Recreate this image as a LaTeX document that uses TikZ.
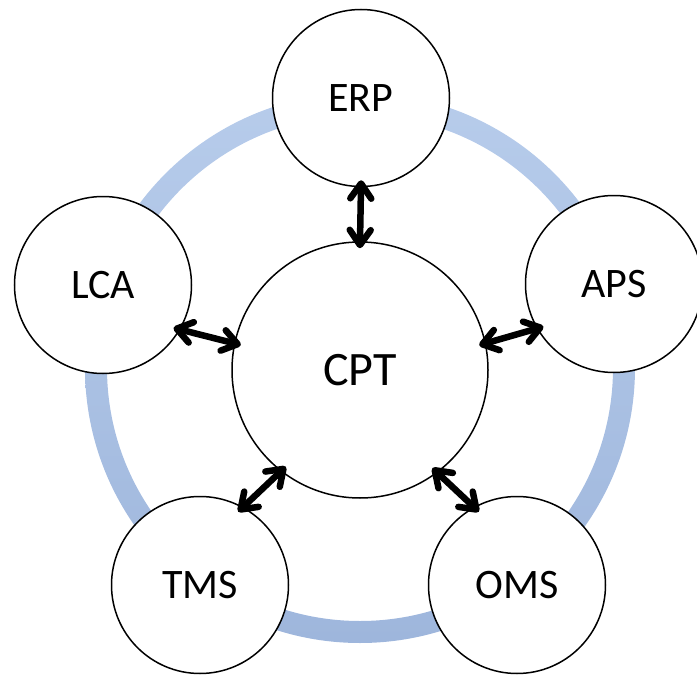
\documentclass[tikz,border=0pt]{standalone}
\usepackage{fontspec}
\setmainfont{Carlito}
\usetikzlibrary{arrows.meta}

\definecolor{ringtop}{RGB}{183,204,235}
\definecolor{ringbot}{RGB}{158,182,220}

\begin{document}
\begin{tikzpicture}[x=1pt,y=-1pt]

    \tikzset{
      unit/.style={
        draw,
        circle,
        line width=1.5pt,
        fill=white,
        inner sep=0pt,
        minimum size=177pt,
        font=\fontsize{42}{50}\selectfont,
      },
      hub/.style={
        unit,
        minimum size=256pt,
        font=\fontsize{48}{56}\selectfont,
      },
      barb/.tip={
        Straight Barb[length=15pt,width=21pt,line width=6.5pt,line join=round,line cap=round]
      },
      link/.style={
        line width=6.5pt,
        line cap=round,
        barb-barb,
        shorten <=-7pt,
        shorten >=-7pt,
      },
    }
    \useasboundingbox (0,0) rectangle (697,677);
    \clip (0,0) rectangle (697,677);
	\coordinate (ring) at (360,368);
	\shade[top color=ringtop,bottom color=ringbot,even odd rule] (ring) circle (275) (ring) circle (253);
	\node[hub] (cpt) at (360,370) {CPT};
	\node[unit] (erp) at (361,98) {ERP};
	\node[unit] (lca) at (103,285) {LCA};
	\node[unit] (aps) at (614,284) {APS};
	\node[unit] (tms) at (200,585) {TMS};
	\node[unit] (oms) at (517,585) {OMS};
	\draw[link] (erp.-90)--(cpt.90);
	\draw[link] (lca.-30)--(cpt.168);
	\draw[link] (aps.210)--(cpt.12);
	\draw[link] (tms.61)--(cpt.-128);
	\draw[link] (oms.119)--(cpt.-53);

\end{tikzpicture}
\end{document}
